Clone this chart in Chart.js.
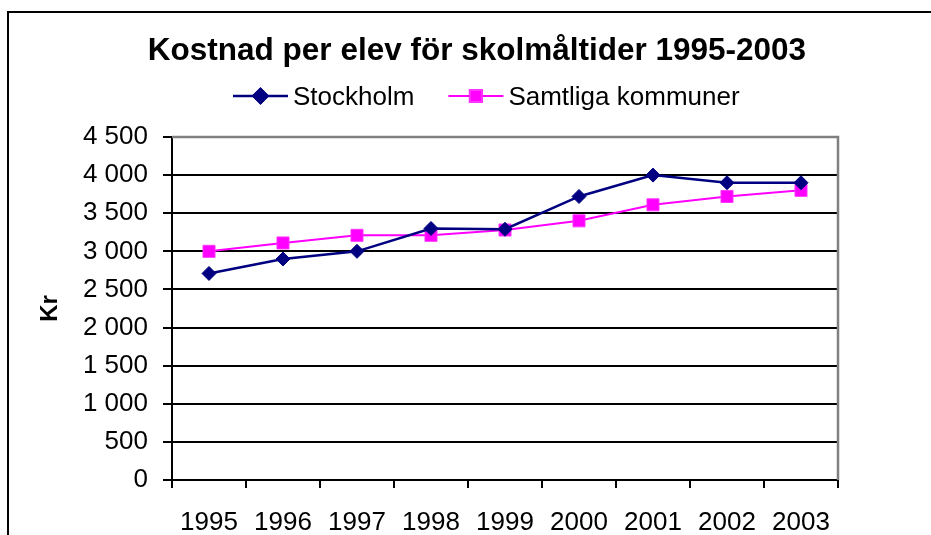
<!DOCTYPE html>
<html>
<head>
<meta charset="utf-8">
<script src="https://cdn.jsdelivr.net/npm/chart.js@4/dist/chart.umd.min.js"></script>
<style>
  html, body { margin: 0; padding: 0; background: #fff; }
  #wrap { position: relative; width: 931px; height: 535px; }
</style>
</head>
<body>
<div id="wrap"><canvas id="chart" width="931" height="535"></canvas></div>
<script>
// Data
const years = ['1995', '1996', '1997', '1998', '1999', '2000', '2001', '2002', '2003'];
const stockholm = [2710, 2900, 3000, 3300, 3290, 3720, 4000, 3900, 3900];
const samtliga = [3000, 3110, 3210, 3210, 3280, 3400, 3610, 3720, 3800];
const seriesNames = ['Stockholm', 'Samtliga kommuner'];
const yTicks = [0, 500, 1000, 1500, 2000, 2500, 3000, 3500, 4000, 4500];

const titleText = 'Kostnad per elev för skolmåltider 1995-2003';
const fontFamily = '"Liberation Sans", Arial, sans-serif';

function spaced(v) {
    return String(v).replace(/\B(?=(\d{3})+(?!\d))/g, ' ');
}

// frame, plot border, title and legend
const decorations = {
    id: 'decorations',
    beforeDraw(chart) {
        const ctx = chart.ctx;
        ctx.save();
        ctx.fillStyle = '#fff';
        ctx.fillRect(0, 0, chart.width, chart.height);
        ctx.strokeStyle = '#000';
        ctx.lineWidth = 2;
        ctx.beginPath();
        ctx.moveTo(8, chart.height);
        ctx.lineTo(8, 12);
        ctx.lineTo(chart.width, 12);
        ctx.stroke();
        ctx.restore();
    },
    afterDatasetsDraw(chart) {
        const ctx = chart.ctx;
        const a = chart.chartArea;
        ctx.save();
        // gray top/right of plot area
        ctx.strokeStyle = '#808080';
        ctx.lineWidth = 2.5;
        ctx.beginPath();
        ctx.moveTo(a.left, a.top);
        ctx.lineTo(a.right, a.top);
        ctx.lineTo(a.right, a.bottom);
        ctx.stroke();

        // title
        ctx.fillStyle = '#000';
        ctx.font = 'bold 31.5px ' + fontFamily;
        ctx.textAlign = 'center';
        ctx.textBaseline = 'alphabetic';
        ctx.fillText(titleText, 477, 60);

        // legend
        ctx.font = '26px ' + fontFamily;
        ctx.textAlign = 'left';
        let x = 233;
        const ly = 96;
        chart.data.datasets.forEach(ds => {
            ctx.strokeStyle = ds.borderColor;
            ctx.lineWidth = ds.borderWidth;
            ctx.beginPath();
            ctx.moveTo(x, ly);
            ctx.lineTo(x + 55, ly);
            ctx.stroke();
            Chart.helpers.drawPoint(ctx, {
                pointStyle: ds.pointStyle,
                radius: ds.pointRadius,
                borderWidth: 1,
                rotation: 0
            }, x + 27.5, ly);
            ctx.fillStyle = ds.pointBackgroundColor;
            ctx.strokeStyle = ds.pointBorderColor;
            ctx.fill();
            ctx.stroke();
            ctx.fillStyle = '#000';
            ctx.fillText(ds.label, x + 60, 105);
            x = x + 60 + ctx.measureText(ds.label).width + 34;
        });
        ctx.restore();
    }
};

const ctx = document.getElementById('chart').getContext('2d');
new Chart(ctx, {
    type: 'line',
    data: {
        labels: years,
        datasets: [{
            label: seriesNames[0],
            data: stockholm,
            borderColor: '#000080',
            backgroundColor: '#000080',
            borderWidth: 2.5,
            pointStyle: 'rectRot',
            pointRadius: 7,
            pointBackgroundColor: '#000080',
            pointBorderColor: '#000080',
            pointBorderWidth: 1,
            tension: 0
        }, {
            label: seriesNames[1],
            data: samtliga,
            borderColor: '#ff00ff',
            backgroundColor: '#ff00ff',
            borderWidth: 2,
            pointStyle: 'rect',
            pointRadius: 8.5,
            pointBackgroundColor: '#ff00ff',
            pointBorderColor: '#ff33ff',
            pointBorderWidth: 1,
            tension: 0
        }]
    },
    options: {
        responsive: false,
        animation: false,
        layout: { padding: { top: 137, right: 93, bottom: 0, left: 0 } },
        plugins: {
            legend: { display: false },
            title: { display: false },
            tooltip: { enabled: false }
        },
        scales: {
            x: {
                offset: true,
                grid: {
                    offset: true,
                    drawOnChartArea: false,
                    drawTicks: true,
                    tickLength: 8,
                    color: '#000',
                    lineWidth: 2
                },
                border: { display: true, color: '#000', width: 2 },
                ticks: {
                    color: '#000',
                    font: { family: fontFamily, size: 26 },
                    padding: 19,
                    autoSkip: false,
                    maxRotation: 0
                },
                afterFit(scale) { scale.height = 55; }
            },
            y: {
                min: 0,
                max: 4500,
                grid: {
                    color: '#000',
                    lineWidth: 2,
                    drawTicks: true,
                    tickLength: 9
                },
                border: { display: true, color: '#000', width: 2 },
                afterBuildTicks(scale) {
                    scale.ticks = yTicks.map(v => ({ value: v }));
                },
                ticks: {
                    color: '#000',
                    font: { family: fontFamily, size: 26 },
                    padding: 15,
                    callback: v => spaced(v)
                },
                title: {
                    display: true,
                    text: 'Kr',
                    color: '#000',
                    font: { family: fontFamily, size: 24, weight: 'bold' },
                    padding: { top: 36, bottom: 0 }
                },
                afterFit(scale) { scale.width = 172; }
            }
        }
    },
    plugins: [decorations]
});
</script>
</body>
</html>
